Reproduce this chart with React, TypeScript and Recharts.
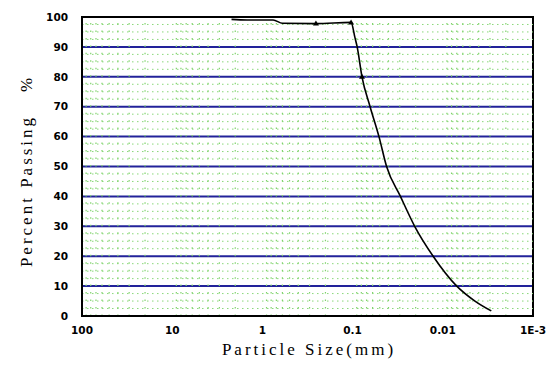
import {
  ComposedChart,
  Line,
  Scatter,
  XAxis,
  YAxis,
  CartesianGrid,
  ReferenceLine,
  ReferenceArea,
  Label,
} from "recharts";

// grading curve
const sizeMm = [2.2, 1.48, 0.76, 0.6, 0.255, 0.104, 0.094, 0.089, 0.0787, 0.064, 0.051, 0.042, 0.0295, 0.0205, 0.0128, 0.007, 0.0044, 0.0029];
const passingPct = [99.2, 99.0, 99.0, 97.9, 97.8, 98.2, 93, 90, 80, 70, 60, 50, 40, 30, 20, 10, 5, 1.7];

// points with markers
const markerSize = [0.255, 0.104, 0.0787];
const markerPct = [97.8, 98.2, 80];

const xTicks = [100, 10, 1, 0.1, 0.01, 0.001];
const yTicks = [0, 10, 20, 30, 40, 50, 60, 70, 80, 90, 100];

// faint green dotted grid
const decades = [0.001, 0.01, 0.1, 1, 10];
const minorSteps = [2, 3, 4, 5, 6, 7, 8, 9];
const minorX = decades.flatMap((d) => minorSteps.map((k) => k * d));
const minorY = yTicks.slice(0, -1).flatMap((v) => [v + 2.5, v + 5, v + 7.5]);

const curve = sizeMm.map((s, i) => ({ size: s, pct: passingPct[i] }));
const markers = markerSize.map((s, i) => ({ size: s, pct: markerPct[i] }));

const tickFont = { fontFamily: "DejaVu Sans, Arial", fontWeight: 700, fontSize: 10.5, fill: "#000" };
const titleFont = "Liberation Serif, Times New Roman, serif";

function fmtX(v: number) {
  return v === 0.001 ? "1E-3" : String(v);
}

function XTick(props: any) {
  const { x, y, payload } = props;
  return (
    <text x={x} y={y} dy="0.71em" textAnchor="middle" {...tickFont}>
      {fmtX(payload.value)}
    </text>
  );
}

function Marker(props: any) {
  const { cx, cy } = props;
  return <polygon points={`${cx - 3},${cy + 2} ${cx + 3},${cy + 2} ${cx},${cy - 3}`} fill="#000" />;
}

export default function App() {
  return (
    <div style={{ width: 547, height: 366, overflow: "hidden" }}>
      <style>{"html,body{margin:0;overflow:hidden;background:#fff}"}</style>
      <ComposedChart
        width={547}
        height={366}
        margin={{ top: 17, right: 14, bottom: 0, left: 0 }}
        style={{ background: "#fff" }}
      >
        <CartesianGrid vertical={false} stroke="#22229a" strokeWidth={2} />
        {minorY.map((v) => (
          <ReferenceLine key={"h" + v} y={v} stroke="#8ad87a" strokeWidth={1} strokeDasharray="1.5 3.5" />
        ))}
        {minorX.map((v) => (
          <ReferenceLine key={"v" + v} x={v} stroke="#7fd36a" strokeWidth={1.2} strokeDasharray="1.5 5.975" />
        ))}
        <XAxis
          dataKey="size"
          type="number"
          scale="log"
          domain={[0.001, 100]}
          reversed
          ticks={xTicks}
          interval={0}
          allowDataOverflow
          height={50}
          tickLine={false}
          tickMargin={5}
          axisLine={{ stroke: "#000", strokeWidth: 2 }}
          tick={<XTick />}
        >
          <Label
            content={() => (
              <text
                x={309}
                y={355}
                textAnchor="middle"
                fontFamily={titleFont}
                fontSize={17}
                letterSpacing={3}
                fill="#000"
              >
                Particle Size(mm)
              </text>
            )}
          />
        </XAxis>
        <YAxis
          type="number"
          domain={[0, 100]}
          ticks={yTicks}
          interval={0}
          width={82}
          tickLine={false}
          tickMargin={8}
          axisLine={{ stroke: "#000", strokeWidth: 2 }}
          tick={tickFont}
        >
          <Label
            content={() => (
              <g fontFamily={titleFont} fontSize={17} fill="#000">
                <text x={32} y={191} transform="rotate(-90 32 191)" textAnchor="middle" letterSpacing={3}>
                  Percent Passing
                </text>
                <text x={32} y={85} transform="rotate(-90 32 85)" textAnchor="middle">
                  %
                </text>
              </g>
            )}
          />
        </YAxis>
        <ReferenceArea
          x1={0.001}
          x2={100}
          y1={0}
          y2={100}
          fill="none"
          stroke="#000"
          strokeWidth={2}
          ifOverflow="extendDomain"
        />
        <Line
          data={curve}
          dataKey="pct"
          type="monotone"
          stroke="#000"
          strokeWidth={1.6}
          dot={false}
          isAnimationActive={false}
        />
        <Scatter data={markers} dataKey="pct" shape={Marker} isAnimationActive={false} />
      </ComposedChart>
    </div>
  );
}
